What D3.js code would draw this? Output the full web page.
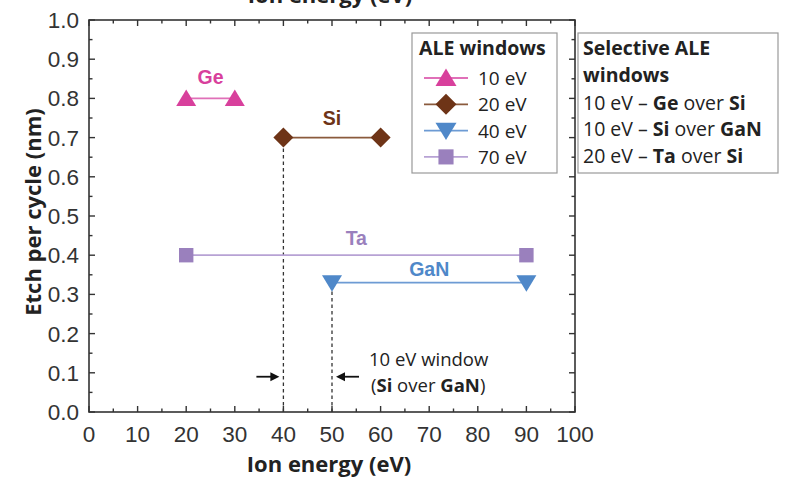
<!DOCTYPE html>
<html lang="en">
<head>
<meta charset="UTF-8">
<title>ALE windows</title>
<script src="https://d3js.org/d3.v7.min.js"></script>
<style>
  body { margin: 0; background: #fff; }
  svg { display: block; }
</style>
</head>
<body>
<div id="chart"></div>
<script>
// windows: start / end ion energy (eV) and etch per cycle (nm)
const materials = ["Ge", "Si", "Ta", "GaN"];
const windowStart = [20, 40, 20, 50];
const windowEnd = [30, 60, 90, 90];
const etchPerCycle = [0.8, 0.7, 0.4, 0.33];
const windowWidth = ["10 eV", "20 eV", "70 eV", "40 eV"];
const markerShape = ["up", "diamond", "square", "down"];
const colors = ["#d8409c", "#6e3417", "#9a80bd", "#4f88c9"];
const lineColors = ["#e070b8", "#8a5a3c", "#b7a2d4", "#6d9bd4"];

const legendOrder = [0, 1, 3, 2];
const selective = [
  [["10 eV – ", false], ["Ge", true], [" over ", false], ["Si", true]],
  [["10 eV – ", false], ["Si", true], [" over ", false], ["GaN", true]],
  [["20 eV – ", false], ["Ta", true], [" over ", false], ["Si", true]]
];

const width = 787, height = 486;
const margin = { left: 89, right: 212, top: 20, bottom: 74 };

const x = d3.scaleLinear().domain([0, 100]).range([margin.left, width - margin.right]);
const y = d3.scaleLinear().domain([0, 1]).range([height - margin.bottom, margin.top]);

const svg = d3.select("#chart").append("svg")
  .attr("width", width).attr("height", height);

const tickFont = "'Liberation Sans', Arial, sans-serif";
const labelFont = "'Open Sans', 'Noto Sans', sans-serif";

// top title, cut by the frame edge as in the source figure
svg.append("text")
  .attr("x", 330).attr("y", 3)
  .attr("text-anchor", "middle")
  .attr("font-family", labelFont).attr("font-weight", 700)
  .attr("font-size", 22).attr("fill", "#222")
  .text("Ion energy (eV)");

// dashed guides
const guides = [[40, 0.7], [50, 0.33]];
svg.append("g").selectAll("line").data(guides).join("line")
  .attr("x1", d => x(d[0])).attr("x2", d => x(d[0]))
  .attr("y1", y(0)).attr("y2", d => y(d[1]))
  .attr("stroke", "#333").attr("stroke-width", 1.3)
  .attr("stroke-dasharray", "3.5,3");

// axes box with inward ticks
const box = svg.append("g").attr("stroke", "#333").attr("fill", "none");
box.append("rect")
  .attr("x", x(0)).attr("y", y(1))
  .attr("width", x(100) - x(0)).attr("height", y(0) - y(1))
  .attr("stroke-width", 1.6);

const xTicks = d3.range(0, 101, 5);
const yTicks = d3.range(0, 1.001, 0.05);
xTicks.forEach(t => {
  const len = t % 10 === 0 ? 6 : 3.5;
  box.append("line").attr("x1", x(t)).attr("x2", x(t))
    .attr("y1", y(0)).attr("y2", y(0) - len).attr("stroke-width", 1.4);
  box.append("line").attr("x1", x(t)).attr("x2", x(t))
    .attr("y1", y(1)).attr("y2", y(1) + len).attr("stroke-width", 1.4);
});
yTicks.forEach((t, i) => {
  const len = i % 2 === 0 ? 6 : 3.5;
  box.append("line").attr("y1", y(t)).attr("y2", y(t))
    .attr("x1", x(0)).attr("x2", x(0) + len).attr("stroke-width", 1.4);
  box.append("line").attr("y1", y(t)).attr("y2", y(t))
    .attr("x1", x(100)).attr("x2", x(100) - len).attr("stroke-width", 1.4);
});

svg.append("g").selectAll("text").data(d3.range(0, 101, 10)).join("text")
  .attr("x", d => x(d)).attr("y", y(0) + 30)
  .attr("text-anchor", "middle")
  .attr("font-family", tickFont).attr("font-size", 22.5).attr("fill", "#333")
  .text(d => d);

svg.append("g").selectAll("text").data(d3.range(0, 11)).join("text")
  .attr("x", x(0) - 10).attr("y", d => y(d / 10) + 8)
  .attr("text-anchor", "end")
  .attr("font-family", tickFont).attr("font-size", 22.5).attr("fill", "#333")
  .text(d => (d / 10).toFixed(1));

svg.append("text")
  .attr("x", x(50) - 3).attr("y", 472)
  .attr("text-anchor", "middle")
  .attr("font-family", labelFont).attr("font-weight", 700)
  .attr("font-size", 22).attr("fill", "#222")
  .text("Ion energy (eV)");

svg.append("text")
  .attr("transform", `translate(41, ${y(0.5) - 4}) rotate(-90)`)
  .attr("text-anchor", "middle")
  .attr("font-family", labelFont).attr("font-weight", 700)
  .attr("font-size", 22).attr("fill", "#222")
  .text("Etch per cycle (nm)");

// markers
function marker(sel, shape, color, size) {
  const s = size;
  if (shape === "up") {
    sel.append("path").attr("d", `M0,${-s * 0.9}L${s},${s * 0.75}L${-s},${s * 0.75}Z`).attr("fill", color);
  } else if (shape === "down") {
    sel.append("path").attr("d", `M0,${s * 0.9}L${s},${-s * 0.75}L${-s},${-s * 0.75}Z`).attr("fill", color);
  } else if (shape === "diamond") {
    sel.append("path").attr("d", `M0,${-s}L${s},0L0,${s}L${-s},0Z`).attr("fill", color);
  } else {
    sel.append("rect").attr("x", -s * 0.72).attr("y", -s * 0.72)
      .attr("width", s * 1.44).attr("height", s * 1.44).attr("fill", color);
  }
}

const series = svg.append("g").selectAll("g").data(materials).join("g");
series.append("line")
  .attr("x1", (d, i) => x(windowStart[i])).attr("x2", (d, i) => x(windowEnd[i]))
  .attr("y1", (d, i) => y(etchPerCycle[i])).attr("y2", (d, i) => y(etchPerCycle[i]))
  .attr("stroke", (d, i) => lineColors[i]).attr("stroke-width", 1.8);
series.each(function (d, i) {
  [windowStart[i], windowEnd[i]].forEach(v => {
    const g = d3.select(this).append("g")
      .attr("transform", `translate(${x(v)},${y(etchPerCycle[i])})`);
    marker(g, markerShape[i], colors[i], 10);
  });
});
const labelOffset = [-14, -13, -10, -7];
series.append("text")
  .attr("x", (d, i) => x((windowStart[i] + windowEnd[i]) / 2))
  .attr("y", (d, i) => y(etchPerCycle[i]) + labelOffset[i])
  .attr("text-anchor", "middle")
  .attr("font-family", "'Liberation Sans', Arial, sans-serif")
  .attr("font-weight", 700).attr("font-size", 19.5)
  .attr("fill", (d, i) => colors[i])
  .text(d => d);

// arrows for the 10 eV window
const arrowY = y(0.09);
function arrow(x1, x2) {
  const dir = Math.sign(x2 - x1);
  svg.append("line").attr("x1", x1).attr("x2", x2 - dir * 6)
    .attr("y1", arrowY).attr("y2", arrowY)
    .attr("stroke", "#111").attr("stroke-width", 1.8);
  svg.append("path")
    .attr("d", `M${x2},${arrowY}L${x2 - dir * 9},${arrowY - 4.5}L${x2 - dir * 9},${arrowY + 4.5}Z`)
    .attr("fill", "#111");
}
arrow(x(40) - 27, x(40) - 4);
arrow(x(50) + 27, x(50) + 4);

const note = svg.append("g").attr("font-family", labelFont).attr("font-size", 18.5).attr("fill", "#222");
note.append("text").attr("x", 369).attr("y", 366).text("10 eV window");
const n2 = note.append("text").attr("x", 371).attr("y", 392);
[["(", false], ["Si", true], [" over ", false], ["GaN", true], [")", false]].forEach(p => {
  n2.append("tspan").attr("font-weight", p[1] ? 700 : 400).text(p[0]);
});

// legend: ALE windows
const leg = svg.append("g").attr("transform", "translate(412,33)");
leg.append("rect").attr("width", 145).attr("height", 140)
  .attr("fill", "#fff").attr("stroke", "#999").attr("stroke-width", 1.2);
leg.append("text").attr("x", 7).attr("y", 22)
  .attr("font-family", labelFont).attr("font-weight", 700).attr("font-size", 19.5).attr("fill", "#222")
  .text("ALE windows");
legendOrder.forEach((k, j) => {
  const cy = 45 + j * 26.3;
  leg.append("line").attr("x1", 12).attr("x2", 56).attr("y1", cy).attr("y2", cy)
    .attr("stroke", lineColors[k]).attr("stroke-width", 1.8);
  const g = leg.append("g").attr("transform", `translate(34,${cy})`);
  marker(g, markerShape[k], colors[k], 10.5);
  leg.append("text").attr("x", 66).attr("y", cy + 7)
    .attr("font-family", labelFont).attr("font-size", 19).attr("fill", "#222")
    .text(windowWidth[k]);
});

// legend: selective windows
const sel = svg.append("g").attr("transform", "translate(578,33)");
sel.append("rect").attr("width", 200).attr("height", 140)
  .attr("fill", "#fff").attr("stroke", "#999").attr("stroke-width", 1.2);
["Selective ALE", "windows"].forEach((t, j) => {
  sel.append("text").attr("x", 5).attr("y", 22 + j * 27)
    .attr("font-family", labelFont).attr("font-weight", 700).attr("font-size", 19.5).attr("fill", "#222")
    .text(t);
});
selective.forEach((parts, j) => {
  const t = sel.append("text").attr("x", 5).attr("y", 77 + j * 26.3)
    .attr("font-family", labelFont).attr("font-size", 19.5).attr("fill", "#222");
  parts.forEach(p => t.append("tspan").attr("font-weight", p[1] ? 700 : 400).text(p[0]));
});
</script>
</body>
</html>
